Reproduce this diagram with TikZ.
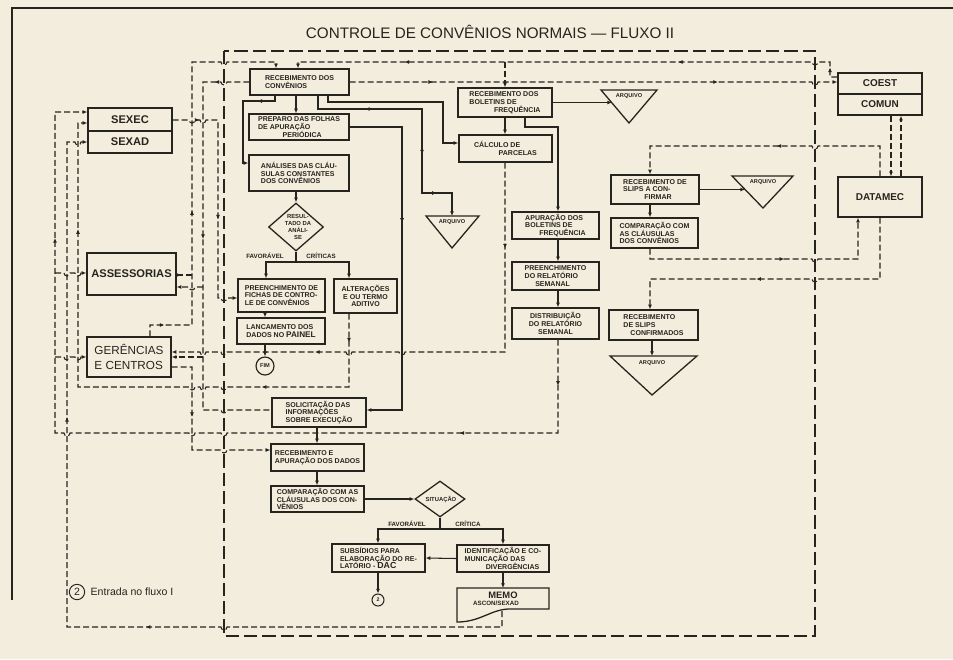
\documentclass[tikz,border=0pt]{standalone}
\usepackage{fontspec}
\setmainfont{Liberation Sans}
\usetikzlibrary{arrows.meta, positioning, shapes.geometric, decorations.markings}
\definecolor{ink}{HTML}{26241F}
\definecolor{paper}{HTML}{F3EDDD}

\begin{document}
\begin{tikzpicture}[
    x=0.3mm, y=-0.3mm,
    every node/.style={text=ink},
    box/.style={
        rectangle, draw=ink, line width=1.1pt, inner sep=1.5pt,
        font=\fontsize{6}{6.7}\selectfont\bfseries, align=left,
    },
    sz/.style 2 args={minimum width=#1*0.3mm, minimum height=#2*0.3mm},
    big/.style={box, font=\fontsize{9.5}{12}\selectfont\bfseries, align=center},
    dia/.style={diamond, draw=ink, line width=1.1pt, inner sep=0pt},
    shp/.style={draw=ink, line width=1.1pt},
    lab/.style={font=\fontsize{5.3}{6}\selectfont\bfseries, align=center, inner sep=0pt},
    ln/.style={draw=ink, line width=0.9pt},
    dsh/.style={ln, dash pattern=on 1.8mm off 0.9mm},
    longdsh/.style={ln, dash pattern=on 4mm off 1.5mm},
    arr/.style={-{Latex[length=4pt, width=3.4pt]}},
    midarr/.style={postaction={decorate, decoration={markings,
        mark=at position #1 with {\arrow{Latex[length=4pt, width=3.4pt]}}}}},
    hr/.style 2 args={insert path={-- ({#1-3},#2) arc[start angle=180, end angle=0, radius=3]}},
    hl/.style 2 args={insert path={-- ({#1+3},#2) arc[start angle=0, end angle=180, radius=3]}},
]

\useasboundingbox (0,0) rectangle (953,659);
\fill[paper] (0,0) rectangle (953,659);
\draw[ink, line width=0.9pt] (12,600) -- (12,8) -- (953,8);

\node[font=\fontsize{13}{15}\selectfont] (title) at (490,32)
    {CONTROLE DE CONVÊNIOS NORMAIS — FLUXO II};

% ================================================ left: the units
\node[big, sz={84}{23}] (sexec) at (130,119.5) {SEXEC};
\node[big, sz={84}{22}] (sexad) at (130,142) {SEXAD};
\node[big, sz={89}{42}] (asses) at (131.5,274) {ASSESSORIAS};
\node[big, sz={84}{40}, align=left, font=\fontsize{10}{13}\selectfont] (geren) at (129,357)
    {GERÊNCIAS\\E CENTROS};

% ================================================ centre column
\node[box, sz={99}{26}] (rconv) at (299.5,82) {RECEBIMENTO DOS\\CONVÊNIOS};
\node[box, sz={100}{26}] (prep) at (299,127)
    {PREPARO DAS FOLHAS\\DE APURAÇÃO\\\hspace*{3.5em}PERIÓDICA};
\node[box, sz={100}{36}] (anal) at (299,173)
    {ANÁLISES DAS CLÁU-\\SULAS CONSTANTES\\DOS CONVÊNIOS};
\node[dia, minimum width=55*0.3mm, minimum height=48*0.3mm] (res) at (296,227) {};
\node[lab, font=\fontsize{5}{5.8}\selectfont\bfseries] (restxt) at (298,227)
    {RESUL-\\TADO DA\\ANÁLI-\\SE};
\node[lab] (fav1) at (265,256) {FAVORÁVEL};
\node[lab] (cri1) at (321,256) {CRÍTICAS};
\node[box, sz={87}{33}] (fichas) at (281.5,295.5)
    {PREENCHIMENTO DE\\FICHAS DE CONTRO-\\LE DE CONVÊNIOS};
\node[box, sz={63}{34}, align=center] (alter) at (365.5,296)
    {ALTERAÇÕES\\E OU TERMO\\ADITIVO};
\node[box, sz={88}{26}] (lanc) at (281,331)
    {LANCAMENTO DOS\\DADOS NO {\fontsize{7}{7}\selectfont PAINEL}};
\node[circle, draw=ink, line width=1pt, minimum size=18*0.3mm, inner sep=0pt,
    font=\fontsize{4.8}{5}\selectfont\bfseries] (fim) at (265,366) {FIM};

\node[box, sz={94}{29}] (solic) at (319,412.5)
    {SOLICITAÇÃO DAS\\INFORMAÇÕES\\SOBRE EXECUÇÃO};
\node[box, sz={93}{27}] (recap) at (317.5,457.5)
    {RECEBIMENTO E\\APURAÇÃO DOS DADOS};
\node[box, sz={93}{26}] (comp1) at (317.5,499)
    {COMPARAÇÃO COM AS\\CLÁUSULAS DOS CON-\\VÊNIOS};
\node[dia, minimum width=50*0.3mm, minimum height=36*0.3mm] (sit) at (440,499) {};
\node[lab, font=\fontsize{5}{5.8}\selectfont\bfseries] (sittxt) at (441,499) {SITUAÇÃO};
\node[lab] (fav2) at (407,524) {FAVORÁVEL};
\node[lab] (cri2) at (468,524) {CRÍTICA};
\node[box, sz={93}{28}] (subs) at (378.5,558)
    {SUBSÍDIOS PARA\\ELABORAÇÃO DO RE-\\LATÓRIO - {\fontsize{7.5}{7}\selectfont DAC}};
\node[box, sz={92}{27}] (ident) at (503,558.5)
    {IDENTIFICAÇÃO E CO-\\MUNICAÇÃO DAS\\\hspace*{3em}DIVERGÊNCIAS};
\node[circle, draw=ink, line width=0.9pt, minimum size=12*0.3mm, inner sep=0pt,
    font=\fontsize{4.5}{5}\selectfont\bfseries] (c2) at (378,600) {2};

% memo, a document sheet
\draw[shp] (457,588) -- (549,588) -- (549,609) -- (508,609)
    .. controls (490,610) and (480,622) .. (457,622) -- cycle;
\node[lab, font=\fontsize{8}{8}\selectfont\bfseries] (memo) at (503,595) {MEMO};
\node[lab] (memosub) at (496,603) {ASCON/SEXAD};
\coordinate (memotop) at (503,588);
\coordinate (memoout) at (502,611);

% ================================================ right columns
\node[box, sz={94}{29}] (rbol) at (505,102.5)
    {RECEBIMENTO DOS\\BOLETINS DE\\\hspace*{3.5em}FREQUÊNCIA};
\node[box, sz={93}{27}] (calc) at (505.5,148.5) {CÁLCULO DE\\\hspace*{3.5em}PARCELAS};
\node[box, sz={87}{27}] (apur) at (555.5,225.5)
    {APURAÇÃO DOS\\BOLETINS DE\\\hspace*{2em}FREQUÊNCIA};
\node[box, sz={87}{28}] (prel) at (555.5,276)
    {PREENCHIMENTO\\DO RELATÓRIO\\\hspace*{1.5em}SEMANAL};
\node[box, sz={87}{31}, align=center] (dist) at (555.5,323.5)
    {DISTRIBUIÇÃO\\DO RELATÓRIO\\SEMANAL};
\node[box, sz={88}{29}] (slipc) at (655,189.5)
    {RECEBIMENTO DE\\SLIPS A CON-\\\hspace*{3em}FIRMAR};
\node[box, sz={87}{30}] (comp2) at (654.5,233)
    {COMPARAÇÃO COM\\AS CLÁUSULAS\\DOS CONVÊNIOS};
\node[box, sz={89}{30}] (slipok) at (653.5,325)
    {RECEBIMENTO\\DE SLIPS\\\hspace*{1em}CONFIRMADOS};

\node[big, sz={84}{21}, font=\fontsize{8.5}{10}\selectfont\bfseries] (coest) at (880,83.5) {COEST};
\node[big, sz={84}{21}, font=\fontsize{8.5}{10}\selectfont\bfseries] (comun) at (880,104.5) {COMUN};
\node[big, sz={84}{40}, font=\fontsize{8.5}{10}\selectfont\bfseries] (datamec) at (880,197) {DATAMEC};

% the four files
\draw[shp] (601,90) -- (657,90) -- (629,123) -- cycle;
\node[lab, font=\fontsize{4.8}{5}\selectfont\bfseries] (arq1) at (629,96) {ARQUIVO};
\draw[shp] (426,216) -- (479,216) -- (452,248) -- cycle;
\node[lab, font=\fontsize{4.8}{5}\selectfont\bfseries] (arq2) at (452,222) {ARQUIVO};
\draw[shp] (732,176) -- (793,176) -- (763,208) -- cycle;
\node[lab, font=\fontsize{4.8}{5}\selectfont\bfseries] (arq3) at (763,182) {ARQUIVO};
\draw[shp] (610,356) -- (697,356) -- (652,395) -- cycle;
\node[lab, font=\fontsize{4.8}{5}\selectfont\bfseries] (arq4) at (652,363) {ARQUIVO};
\coordinate (arq1in) at (612,102.5);
\coordinate (arq2in) at (452,216);
\coordinate (arq3in) at (745,189.5);
\coordinate (arq4in) at (652,356);

% legend
\node[circle, draw=ink, line width=0.8pt, minimum size=4.6mm, inner sep=0pt,
    font=\fontsize{9}{9}\selectfont] (leg) at (77,592) {2};
\node[right=1.6mm of leg, font=\fontsize{9}{11}\selectfont, inner sep=0pt] (legtxt) {Entrada no fluxo I};

% ================================================ solid flow
\draw[ln, arr] (rconv.south -| 296,0) -- (prep.north -| 296,0);
\draw[ln, arr, midarr=0.22] (rconv.south -| 275,0) -- (275,101) -- (243,101) -- (243,163) -- (anal.west |- 0,163);
\draw[ln, arr, midarr=0.27, midarr=0.64, midarr=0.85] (rconv.south -| 318,0) -- (318,109) -- (422,109)
    -- (422,193) -- (452,193) -- (arq2in);
\draw[ln, arr] (rconv.south -| 328,0) -- (328,102) -- (443,102) -- (443,143) -- (calc.west |- 0,143);
\draw[ln, arr, midarr=0.4] (prep.east) -- (402,127) -- (402,410) -- (solic.east |- 0,410);
\draw[ln, arr] (anal.south -| res.north) -- (res.north);
\draw[ln, arr] (res.south) -- (296,262) -| (fichas.north -| 266,0);
\draw[ln, arr] (296,262) -| (alter.north -| 349,0);
\draw[ln, arr] (fichas.south -| 265,0) -- (lanc.north -| 265,0);
\draw[ln, arr] (lanc.south -| fim.north) -- (fim.north);
\draw[ln, arr] (solic.south -| 317,0) -- (recap.north -| 317,0);
\draw[ln, arr] (recap.south -| 317,0) -- (comp1.north -| 317,0);
\draw[ln, arr] (comp1.east) -- (sit.west);
\draw[ln, arr] (sit.south) -- (440,529) -| (subs.north -| 378,0);
\draw[ln, arr] (440,529) -| (ident.north -| 503,0);
\draw[ln, arr] (ident.west) -- (subs.east);
\draw[ln, arr] (subs.south -| c2.north) -- (c2.north);
\draw[ln, arr] (ident.south -| memotop) -- (memotop);

\draw[ln, arr] (rbol.east) -- (arq1in);
\draw[ln, arr] (rbol.south -| 505,0) -- (calc.north -| 505,0);
\draw[ln, arr] (rbol.south -| 525,0) -- (525,127) -- (558,127) -- (apur.north -| 558,0);
\draw[ln, arr] (apur.south -| 558,0) -- (prel.north -| 558,0);
\draw[ln, arr] (prel.south -| 558,0) -- (dist.north -| 558,0);
\draw[ln, arr] (slipc.east) -- (arq3in);
\draw[ln, arr] (slipc.south -| 650,0) -- (comp2.north -| 650,0);
\draw[ln, arr] (slipok.south -| 652,0) -- (arq4in);

% ================================================ dashed flow
\draw[longdsh] (224,51) rectangle (815,636);

\draw[dsh, arr, midarr=0.03, midarr=0.315, midarr=0.8] (coest.west |- 0,77) -- (830,77) -- (830,62)
    [hl={815}{62}] -- (298,62) -- (rconv.north -| 298,0);
\draw[dsh, arr, midarr=0.063, midarr=0.41] (geren.north -| 150,0) -- (150,325) -- (192,325) -- (192,62)
    [hr={224}{62}] -- (276,62) -- (rconv.north -| 276,0);
\draw[dsh, arr] (505,62) -- (rbol.north -| 505,0);
\draw[dsh, midarr=0.3] (asses.east |- 0,275) -- (192,275);
\draw[dsh, arr, midarr=0.17, midarr=0.75] (rconv.east) [hr={815}{82}] -- (coest.west |- 0,82);

\draw[dsh, midarr=0.085, midarr=0.46] (rconv.west) [hl={224}{82}] -- (203,82) -- (203,410)
    [hr={224}{410}] -- (solic.west |- 0,410);
\draw[dsh, arr] (203,287) [hl={192}{287}] -- (asses.east |- 0,287);
\draw[dsh, arr] (203,357) -- (geren.east |- 0,357);

\draw[dsh, arr, midarr=0.12, midarr=0.6] (sexec.east |- 0,120) [hr={192}{120}] [hr={203}{120}] -- (218,120)
    -- (218,298) [hr={224}{298}] -- (fichas.west |- 0,298);

\draw[dsh, arr, midarr=0.046, midarr=0.256, midarr=0.816] (alter.south -| 349,0) -- (349,387)
    [hl={224}{387}] [hl={203}{387}] [hl={192}{387}] -- (78,387) -- (78,123) -- (sexec.west |- 0,123);

\draw[dsh, arr, midarr=0.048, midarr=0.2, midarr=0.835] (dist.south -| 558,0) -- (558,433)
    [hl={224}{433}] [hl={192}{433}] [hl={67}{433}] -- (55,433) -- (55,112) -- (sexec.west |- 0,112);
\draw[dsh, arr] (55,273) [hr={67}{273}] [hr={78}{273}] -- (asses.west |- 0,273);
\draw[dsh, arr] (55,357) [hr={67}{357}] [hr={78}{357}] -- (geren.west |- 0,357);

\draw[dsh, arr, midarr=0.38] (geren.east |- 0,367) -- (192,367) -- (192,450) [hr={224}{450}] -- (recap.west |- 0,450);

\draw[dsh, arr, midarr=0.16, midarr=0.72] (calc.south -| 505,0) -- (505,352)
    [hl={402}{352}] [hl={349}{352}] [hl={224}{352}] [hl={203}{352}] -- (geren.east |- 0,352);

\draw[dsh, arr, midarr=0.39, midarr=0.69] (memoout) -- (502,627) [hl={224}{627}] -- (67,627) -- (67,142)
    [hr={78}{142}] -- (sexad.west);

% DATAMEC loops
\draw[dsh, arr, midarr=0.47] (datamec.north -| 880,0) -- (880,146) [hl={815}{146}] -- (650,146) -- (slipc.north -| 650,0);
\draw[dsh, arr, midarr=0.55] (comp2.south -| 650,0) -- (650,259) [hr={815}{259}] -- (858,259) -- (datamec.south -| 858,0);
\draw[dsh, arr, midarr=0.58] (datamec.south -| 880,0) -- (880,279) [hl={815}{279}] -- (650,279) -- (slipok.north -| 650,0);
\draw[dsh, arr] (comun.south -| 891,0) -- (datamec.north -| 891,0);
\draw[dsh, arr] (datamec.north -| 901,0) -- (comun.south -| 901,0);

\end{tikzpicture}
\end{document}
